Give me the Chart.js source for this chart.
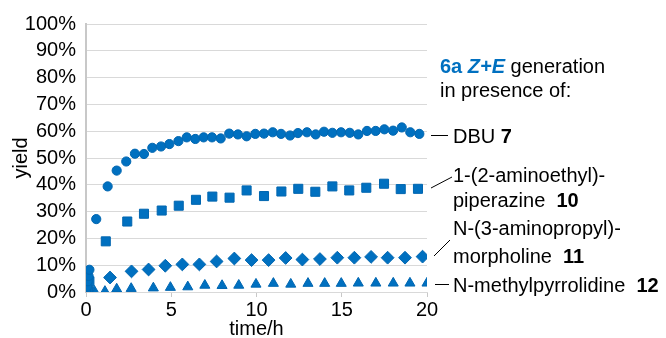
<!DOCTYPE html>
<html>
<head>
<meta charset="utf-8">
<script src="https://cdn.jsdelivr.net/npm/chart.js@4/dist/chart.umd.min.js"></script>
<style>
  html, body { margin: 0; padding: 0; background: #fff; }
  #wrap { width: 666px; height: 338px; position: relative; }
</style>
</head>
<body>
<div id="wrap"><canvas id="yield-chart"></canvas></div>
<script>
var blue = "#0070C0";
var font = "'Liberation Sans', Arial, sans-serif";

// DBU 7
var tDBU = [0, 0.05, 0.1, 0.15, 0.2, 0.6, 1.27, 1.8, 2.36, 2.87, 3.4, 3.89, 4.4, 4.89, 5.42, 5.91, 6.41, 6.9, 7.39, 7.9, 8.4, 8.91, 9.42, 9.93, 10.44, 10.95, 11.44, 11.97, 12.43, 12.96, 13.47, 13.96, 14.45, 14.96, 15.47, 15.97, 16.48, 16.99, 17.5, 18.01, 18.52, 19.02, 19.55];
var yDBU = [0, 2, 4, 6, 8.3, 27.2, 39.4, 45.3, 48.7, 51.6, 51.5, 53.8, 54.3, 55.2, 56.3, 57.7, 57.1, 57.7, 57.7, 57.3, 59.1, 58.8, 58.1, 59.0, 59.1, 59.6, 59.0, 58.4, 59.3, 59.6, 58.8, 59.8, 59.4, 59.6, 59.4, 58.8, 60.1, 60.1, 60.7, 60.2, 61.4, 59.6, 59.0];

// 1-(2-aminoethyl)piperazine 10
var tAEP = [0, 0.1, 0.2, 1.16, 2.42, 3.4, 4.44, 5.44, 6.45, 7.41, 8.42, 9.42, 10.44, 11.46, 12.45, 13.45, 14.45, 15.44, 16.44, 17.48, 18.46, 19.47];
var yAEP = [0, 1.5, 4, 18.9, 26.3, 29.2, 30.4, 32.2, 34.4, 35.6, 35.2, 37.9, 35.8, 37.5, 38.5, 37.4, 39.4, 37.9, 38.9, 40.4, 38.4, 38.5];

// N-(3-aminopropyl)morpholine 11
var tAPM = [0.05, 0.15, 1.41, 2.67, 3.67, 4.65, 5.65, 6.65, 7.66, 8.7, 9.71, 10.71, 11.71, 12.69, 13.72, 14.74, 15.74, 16.72, 17.69, 18.71, 19.74];
var yAPM = [0, 1, 5.4, 7.7, 8.4, 9.8, 10.3, 10.3, 11.4, 12.5, 11.9, 11.9, 12.7, 12.1, 12.3, 12.8, 12.8, 13.1, 12.8, 12.8, 13.2];

// N-methylpyrrolidine 12
var tNMP = [0, 0.1, 0.49, 1.11, 1.8, 2.65, 3.95, 4.95, 5.97, 6.97, 7.98, 8.96, 9.97, 10.99, 12.01, 13.02, 14.0, 14.97, 15.97, 17.0, 18.02, 19.0, 20.0];
var yNMP = [0, 0.2, 0.3, 0.2, 1.1, 1.3, 1.5, 1.7, 1.9, 2.5, 2.4, 2.5, 2.9, 3.2, 2.9, 3.2, 3.2, 3.2, 3.3, 3.3, 3.3, 3.3, 3.3];

var yTicks = [0, 10, 20, 30, 40, 50, 60, 70, 80, 90, 100];
var xTicks = [0, 5, 10, 15, 20];

function pts(t, y) {
    return t.map(function(v, i) { return { x: v, y: y[i] }; });
}

function series(label, t, y, style, r) {
    return {
        label: label,
        data: pts(t, y),
        pointStyle: style,
        pointRadius: r,
        pointHoverRadius: r,
        backgroundColor: blue,
        borderColor: "#0066b0",
        borderWidth: 1,
        showLine: false
    };
}

// draws a line of text made of runs with their own weight/style/colour
function runs(ctx, x, y, parts) {
    parts.forEach(function(p) {
        ctx.font = (p.s || "") + " " + (p.w || "normal") + " 20px " + font;
        ctx.fillStyle = p.c || "#000";
        ctx.fillText(p.t, x, y);
        x += ctx.measureText(p.t).width;
    });
}

function seg(ctx, x1, y1, x2, y2) {
    ctx.beginPath();
    ctx.moveTo(x1, y1);
    ctx.lineTo(x2, y2);
    ctx.stroke();
}

var notes = {
    id: "notes",
    afterDraw: function(chart) {
        var ctx = chart.ctx;
        ctx.save();
        ctx.textBaseline = "alphabetic";
        ctx.textAlign = "left";
        runs(ctx, 440, 73, [{ t: "6a ", w: "bold", c: blue }, { t: "Z+E", w: "bold", s: "italic", c: blue }, { t: " generation" }]);
        runs(ctx, 440, 97, [{ t: "in presence of:" }]);
        runs(ctx, 453, 143, [{ t: "DBU " }, { t: "7", w: "bold" }]);
        runs(ctx, 453, 182, [{ t: "1-(2-aminoethyl)-" }]);
        runs(ctx, 453, 207, [{ t: "piperazine  " }, { t: "10", w: "bold" }]);
        runs(ctx, 453, 235, [{ t: "N-(3-aminopropyl)-" }]);
        runs(ctx, 453, 263, [{ t: "morpholine  " }, { t: "11", w: "bold" }]);
        runs(ctx, 453, 292, [{ t: "N-methylpyrrolidine  " }, { t: "12", w: "bold" }]);
        ctx.strokeStyle = "#000";
        ctx.lineWidth = 1;
        seg(ctx, 431, 135.5, 448, 135.5);
        seg(ctx, 431, 188, 452, 177);
        seg(ctx, 434, 256, 450, 240);
        seg(ctx, 435, 284.5, 449, 284.5);
        ctx.restore();
    }
};

new Chart(document.getElementById("yield-chart"), {
    type: "scatter",
    data: {
        datasets: [
            series("DBU 7", tDBU, yDBU, "circle", 4.6),
            series("1-(2-aminoethyl)piperazine 10", tAEP, yAEP, "rect", 6.4),
            series("N-(3-aminopropyl)morpholine 11", tAPM, yAPM, "rectRot", 6.4),
            series("N-methylpyrrolidine 12", tNMP, yNMP, "triangle", 5.8)
        ]
    },
    options: {
        responsive: true,
        maintainAspectRatio: false,
        animation: false,
        layout: { padding: { top: 24, right: 239, left: 0, bottom: 0 } },
        plugins: { legend: { display: false }, tooltip: { enabled: false } },
        scales: {
            x: {
                type: "linear",
                min: 0,
                max: 20,
                afterBuildTicks: function(s) { s.ticks = xTicks.map(function(v) { return { value: v }; }); },
                afterFit: function(s) { s.height = 46; },
                ticks: { color: "#000", font: { family: font, size: 20 }, padding: 1, maxRotation: 0, autoSkip: false },
                grid: { drawOnChartArea: false, drawTicks: true, tickLength: 5, color: "#c8c8c8" },
                border: { display: true, color: "#d9d9d9", width: 1 },
                title: { display: true, text: "time/h", color: "#000", font: { family: font, size: 20 }, padding: { top: 0, bottom: -3 } }
            },
            y: {
                min: 0,
                max: 100,
                afterBuildTicks: function(s) { s.ticks = yTicks.map(function(v) { return { value: v }; }); },
                afterFit: function(s) { s.width = 86; },
                ticks: { color: "#000", font: { family: font, size: 20 }, padding: 10, autoSkip: false, callback: function(v) { return v + "%"; } },
                grid: { color: "#d9d9d9", lineWidth: 1, drawTicks: false },
                border: { display: true, color: "#c8c8c8", width: 2 },
                title: { display: true, text: "yield", color: "#000", font: { family: font, size: 20 }, padding: { top: 9, bottom: 0 } }
            }
        }
    },
    plugins: [notes]
});
</script>
</body>
</html>
